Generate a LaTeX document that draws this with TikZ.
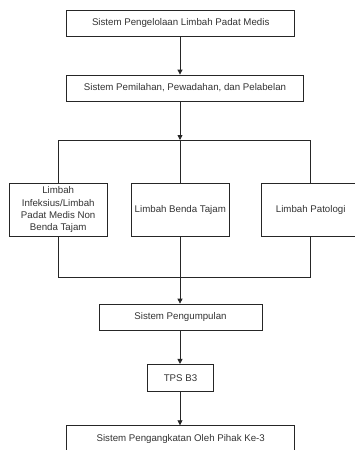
\documentclass[tikz,border=0pt]{standalone}
\usepackage{fontspec}
\setmainfont{Liberation Sans}
\usetikzlibrary{arrows.meta}
\begin{document}
\begin{tikzpicture}[x=1pt,y=-1pt,
  box/.style={draw=black!85, line width=0.8pt, inner sep=0pt, align=center,
    text=black!80, font=\fontsize{9.7}{12.2}\selectfont},
  conn/.style={draw=black!85, line width=0.8pt},
  arr/.style={conn, -{Triangle[length=5pt,width=5pt]}}]
\useasboundingbox (0,0) rectangle (355,450);
\clip (0,0) rectangle (355,450);
\node[box, minimum width=228pt, minimum height=25.7pt] (b1) at (180.7,23.15) {Sistem Pengelolaan Limbah Padat Medis};
\node[box, minimum width=237.4pt, minimum height=26pt] (b2) at (185,88) {Sistem Pemilahan, Pewadahan, dan Pelabelan};
\node[box, minimum width=97.7pt, minimum height=52.7pt] (L) at (58.2,209.7) {Limbah\\Infeksius/Limbah\\Padat Medis Non\\Benda Tajam};
\node[box, minimum width=98pt, minimum height=52.7pt] (M) at (180.3,209.7) {Limbah Benda Tajam};
\node[box, minimum width=98pt, minimum height=52.7pt] (R) at (310.7,209.7) {Limbah Patologi};
\node[box, minimum width=163pt, minimum height=26.3pt] (P) at (180.5,317.2) {Sistem Pengumpulan};
\node[box, minimum width=65.6pt, minimum height=26.7pt] (T) at (180.5,377.7) {TPS B3};
\node[box, minimum width=228pt, minimum height=26pt] (S) at (180.7,438.7) {Sistem Pengangkatan Oleh Pihak Ke-3};
\coordinate (top) at (180,140);
\coordinate (tl) at (58.7,140);
\coordinate (tr) at (310.7,140);
\coordinate (bl) at (58.7,277.7);
\coordinate (br) at (310.7,277.7);
\draw[arr] (b1.south -| top) -- (b2.north -| top);
\draw[arr] (b2.south -| top) -- (top);
\draw[conn] (tl) -- (tr);
\draw[conn] (tl) -- (L.north -| tl);
\draw[conn] (top) -- (M.north -| top);
\draw[conn] (tr) -- (R.north -| tr);
\draw[conn] (L.south -| bl) -- (bl) -- (br) -- (R.south -| br);
\draw[arr] (M.south -| top) -- (P.north -| top);
\draw[arr] (P.south -| top) -- (T.north -| top);
\draw[arr] (T.south -| top) -- (S.north -| top);
\end{tikzpicture}
\end{document}
